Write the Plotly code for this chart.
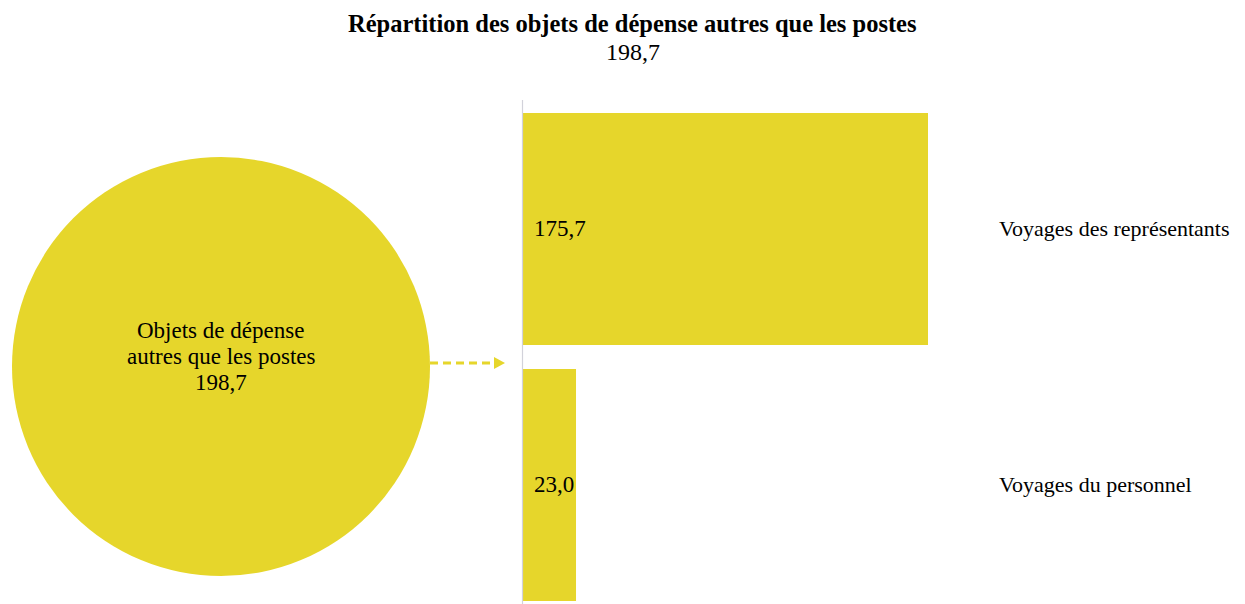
import plotly.graph_objects as go

# Data
title_text = "Répartition des objets de dépense autres que les postes"
total_label_lines = ["Objets de dépense", "autres que les postes"]
total_value = 198.7
categories = ["Voyages des représentants", "Voyages du personnel"]
values = [175.7, 23.0]

def fr(v):
    return f"{v:.1f}".replace(".", ",")

# page has an 8px body margin; map screen pixels to paper coords
OFF = 8
W, H = 1245 - OFF, 604 - OFF
YELLOW = "#E6D62B"
FONT = "Liberation Serif"

def px(x):
    return (x - OFF) / W

def py(y):
    return 1 - (y - OFF) / H

fig = go.Figure()

fig.add_trace(go.Bar(
    x=values,
    y=list(range(len(categories))),
    orientation="h",
    marker=dict(color=YELLOW, line=dict(width=0)),
    width=0.906,
    textposition="none",
    hoverinfo="skip",
))

# Bar axes: zero at 523 px, 405px for 175.7
x0_px = 523
scale = 405 / 175.7
x_end_px = 990
fig.update_xaxes(domain=[px(x0_px), px(x_end_px)],
                 range=[0, (x_end_px - x0_px) / scale],
                 showgrid=False, showticklabels=False, zeroline=False,
                 showline=False, fixedrange=True)
fig.update_yaxes(domain=[0, py(101)], range=[1.465, -0.5],
                 showgrid=False, showticklabels=False, zeroline=False,
                 showline=False, fixedrange=True)

shapes = []
# axis line at zero
shapes.append(dict(type="line", xref="paper", yref="paper", x0=px(522.5), x1=px(522.5),
                   y0=0, y1=py(100), line=dict(color="#D2D2DA", width=1.2),
                   layer="above"))
# Total circle
shapes.append(dict(type="circle", xref="paper", yref="paper",
                   x0=px(12), x1=px(430), y0=py(576), y1=py(157),
                   fillcolor=YELLOW, line=dict(width=0), layer="below"))
# dashed arrow
shapes.append(dict(type="line", xref="paper", yref="paper",
                   x0=px(430), x1=px(496), y0=py(363), y1=py(363),
                   line=dict(color=YELLOW, width=3, dash="8px,5px")))
shapes.append(dict(type="path", xref="paper", yref="paper",
                   path=f"M {px(494)} {py(357)} L {px(505)} {py(363)} L {px(494)} {py(369)} Z",
                   fillcolor=YELLOW, line=dict(width=0)))

annotations = []
# title
annotations.append(dict(xref="paper", yref="paper", x=px(632), y=py(24),
                        text=f"<b>{title_text}</b>",
                        showarrow=False, xanchor="center", yanchor="middle",
                        font=dict(family=FONT, size=24.5, color="black")))
annotations.append(dict(xref="paper", yref="paper", x=px(633), y=py(52),
                        text=fr(total_value),
                        showarrow=False, xanchor="center", yanchor="middle",
                        font=dict(family=FONT, size=24, color="black")))
# circle label
circle_lines = total_label_lines + [fr(total_value)]
for k, line in enumerate(circle_lines):
    annotations.append(dict(xref="paper", yref="paper", x=px(221),
                            y=py(330 + 26 * k), text=line,
                            showarrow=False, xanchor="center", yanchor="middle",
                            font=dict(family=FONT, size=23, color="black")))
# bar value labels and category labels
for i, (c, v) in enumerate(zip(categories, values)):
    annotations.append(dict(xref="x", yref="y", x=0, y=i, xshift=9,
                            text=fr(v), showarrow=False, xanchor="left",
                            yanchor="middle",
                            font=dict(family=FONT, size=23, color="black")))
    annotations.append(dict(xref="paper", yref="y", x=px(997), y=i,
                            text=c, showarrow=False, xanchor="left",
                            yanchor="middle",
                            font=dict(family=FONT, size=22, color="black")))

fig.update_layout(
    width=W, height=H,
    margin=dict(l=0, r=0, t=0, b=0),
    paper_bgcolor="white", plot_bgcolor="white",
    showlegend=False,
    shapes=shapes,
    annotations=annotations,
)

fig.write_html("out.html", config={"displayModeBar": False})
